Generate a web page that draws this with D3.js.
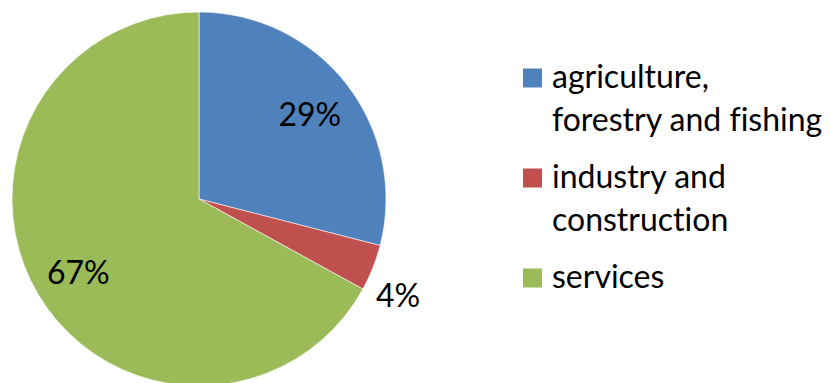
<!DOCTYPE html>
<html>
<head>
<meta charset="utf-8">
<script src="https://cdn.jsdelivr.net/npm/d3@7/dist/d3.min.js"></script>
<style>
  html, body { margin: 0; padding: 0; background: #fff; }
  svg { display: block; }
  text { font-family: Lato, "Open Sans", sans-serif; fill: #000; font-variant-ligatures: none; }
</style>
</head>
<body>
<svg id="chart" width="831" height="383"></svg>
<script>
// Share of employment by sector (percent)
const categories = ["agriculture, forestry and fishing", "industry and construction", "services"];
const values = [29, 4, 67];
const valueLabels = ["29%", "4%", "67%"];
const legendLines = [["agriculture,", "forestry and fishing"], ["industry and", "construction"], ["services"]];
const colors = ["#4F81BD", "#C0504D", "#9BBB59"];

const W = 831, H = 383;
const cx = 199, cy = 199, R = 187;
const fontSize = 32;

const svg = d3.select("#chart");

const pie = d3.pie().sort(null).value(d => d)(values);
const arc = d3.arc().innerRadius(0).outerRadius(R);

const g = svg.append("g").attr("transform", `translate(${cx},${cy})`);

g.selectAll("path.slice")
  .data(pie)
  .join("path")
  .attr("class", "slice")
  .attr("d", arc)
  .attr("fill", (d, i) => colors[i])
  .attr("stroke", "#ffffff")
  .attr("stroke-width", 0.6);

// Data labels: large slices inside, small slices just outside the rim
const insideArc = d3.arc().innerRadius(R * 0.75).outerRadius(R * 0.75);
const outsideArc = d3.arc().innerRadius(R * 1.18).outerRadius(R * 1.18);
const outsideShift = 16;

g.selectAll("text.val")
  .data(pie)
  .join("text")
  .attr("class", "val")
  .attr("text-anchor", "middle")
  .attr("font-size", fontSize)
  .attr("dy", "0.35em")
  .attr("transform", d => {
    const small = (d.endAngle - d.startAngle) < 0.5;
    const [x, y] = small ? outsideArc.centroid(d) : insideArc.centroid(d);
    return `translate(${small ? x - 6 : x},${small ? y + outsideShift : y + 2})`;
  })
  .text((d, i) => valueLabels[i]);

// Legend
const legendX = 523, swatch = 19, textX = 552;
const lineH = 42.5, itemGap = 15;
let baseline = 88;
const legend = svg.append("g").attr("class", "legend");
legendLines.forEach((lines, i) => {
  const item = legend.append("g");
  item.append("rect")
    .attr("x", legendX)
    .attr("y", baseline - swatch - 0.5)
    .attr("width", swatch)
    .attr("height", swatch)
    .attr("fill", colors[i]);
  lines.forEach((ln, j) => {
    item.append("text")
      .attr("x", textX)
      .attr("y", baseline + j * lineH)
      .attr("font-size", fontSize)
      .text(ln);
  });
  baseline += lines.length * lineH + itemGap;
});
</script>
</body>
</html>
